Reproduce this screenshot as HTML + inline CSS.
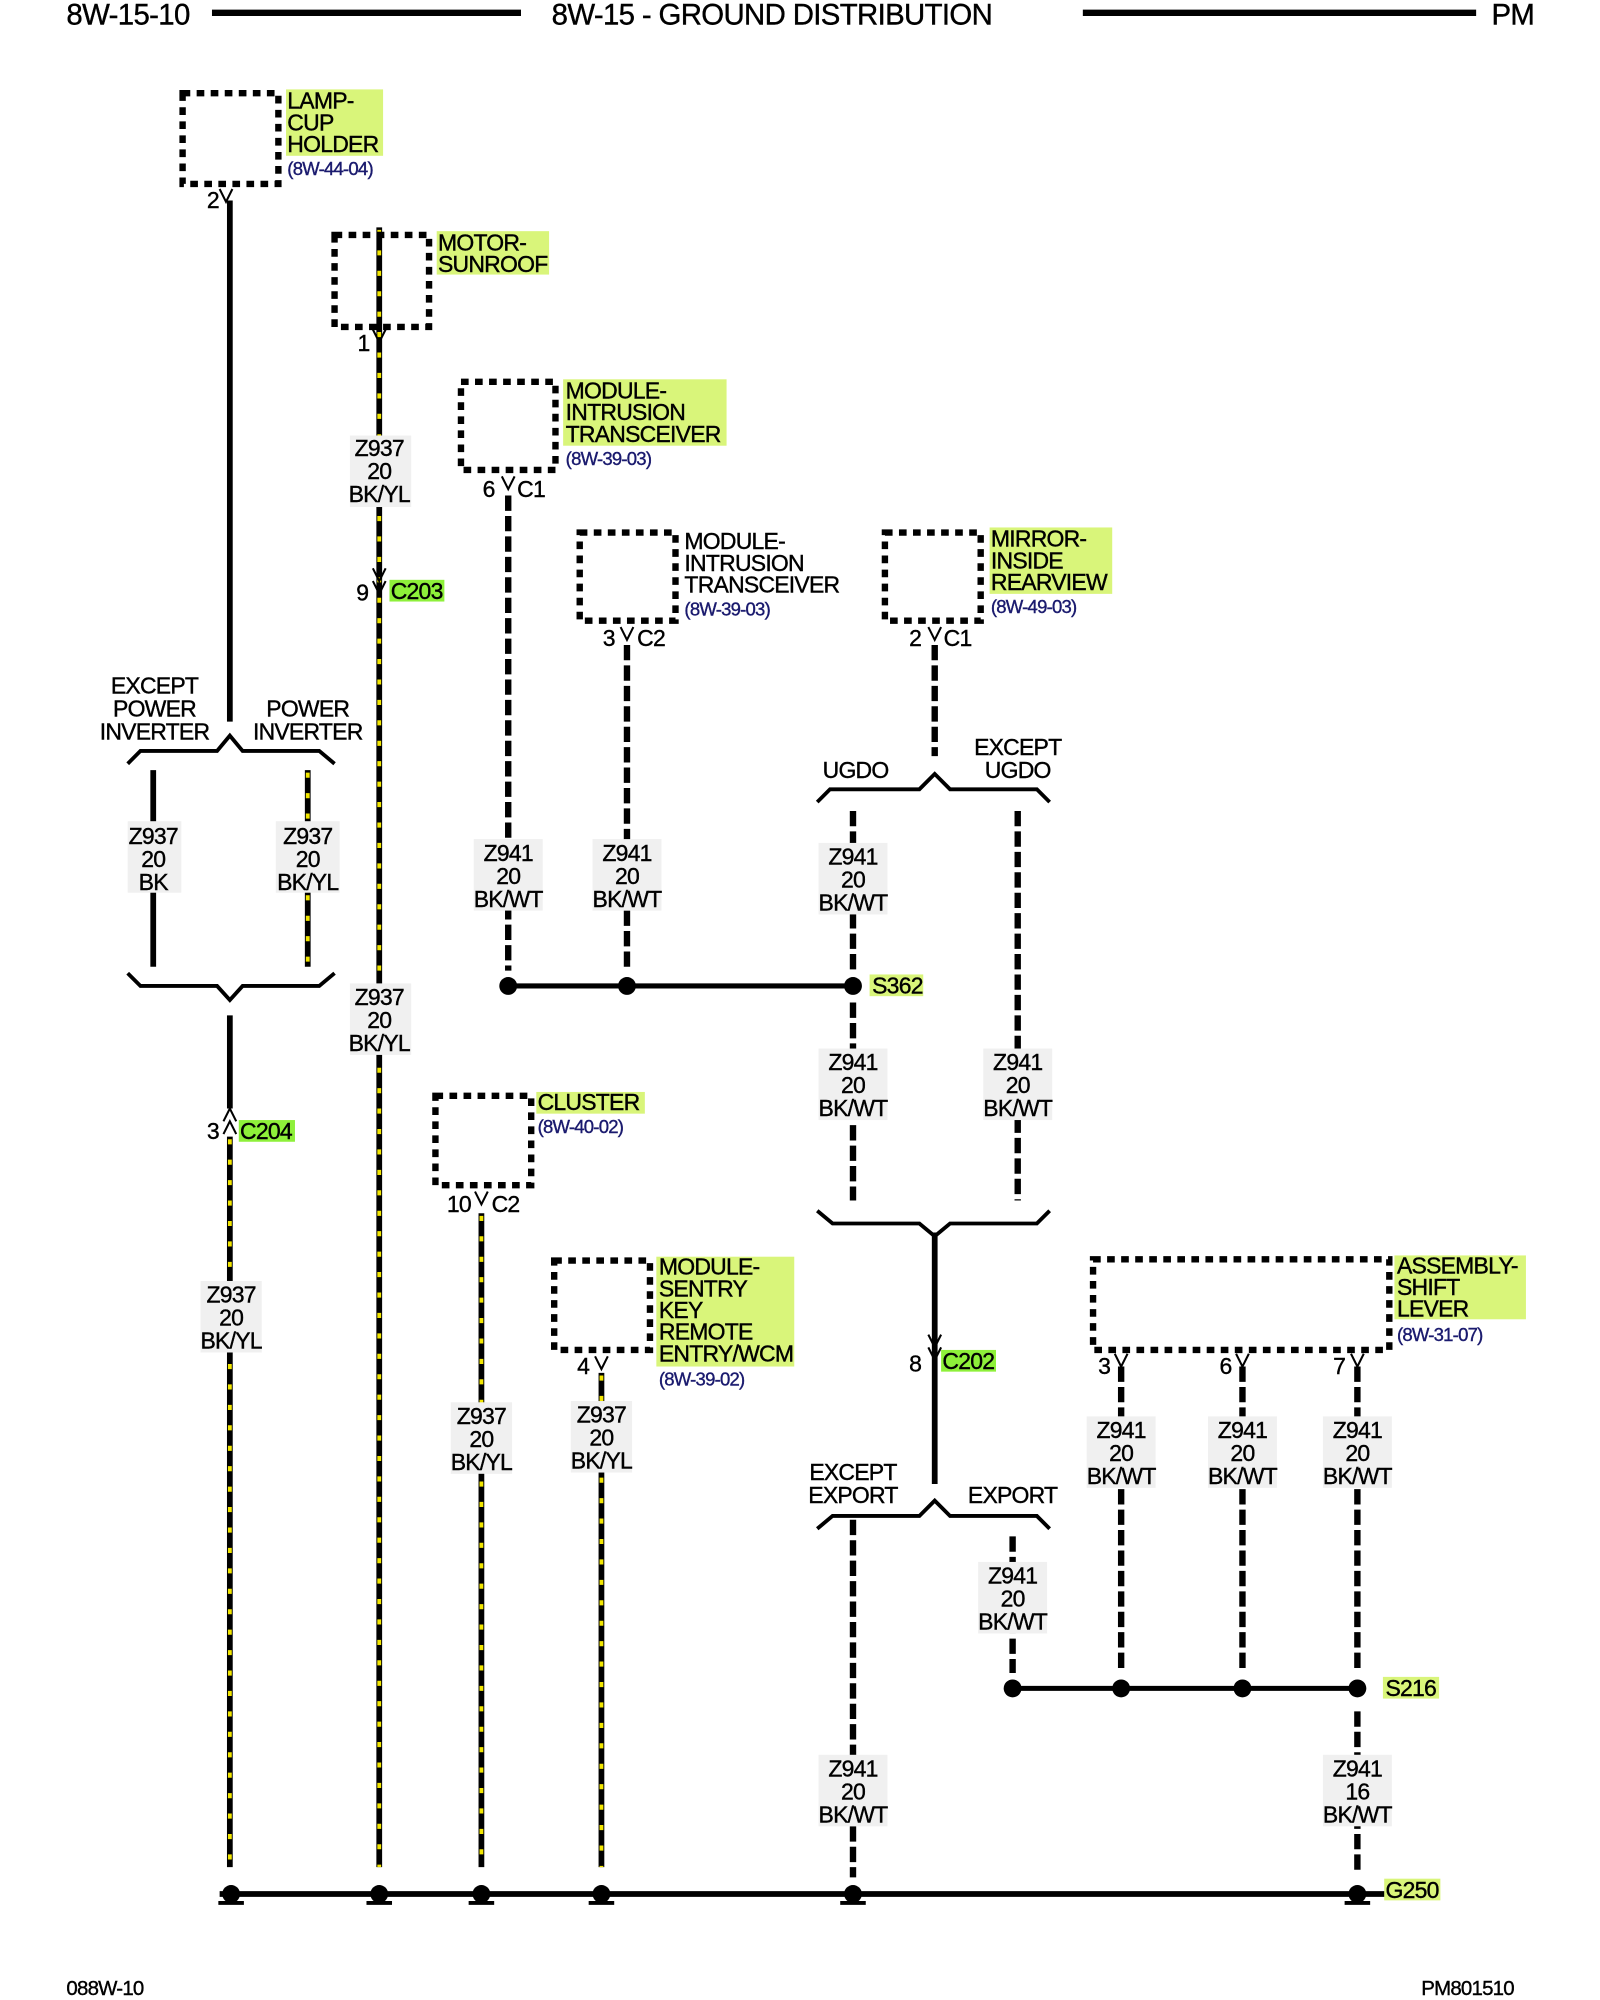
<!DOCTYPE html>
<html><head><meta charset="utf-8"><style>
html,body{margin:0;padding:0;background:#fff;}
svg{display:block;}
text{font-family:"Liberation Sans",Arial,sans-serif;font-size:18px;fill:#000;letter-spacing:-0.6px;stroke:#000;stroke-width:0.3px;}
.h{font-size:23px;letter-spacing:-0.5px;}
.r{font-size:14.5px;fill:#1a1a6e;stroke:#1a1a6e;}
.m{text-anchor:middle;}
.y{stroke:#000;stroke-width:4.5;fill:none;}
.yd{stroke:#f2e600;stroke-width:3;stroke-dasharray:4 12;fill:none;}
.s{stroke:#000;stroke-width:4.5;fill:none;}
.d{stroke:#000;stroke-width:5;stroke-dasharray:12 4;fill:none;}
.br{stroke:#000;stroke-width:3;fill:none;}
.hl{fill:#d9f57a;}
.g{fill:#8ef03a;}
.lb{fill:#f0f0f0;}
</style></head><body>
<svg width="1600" height="2000" viewBox="0 0 1253 1566" preserveAspectRatio="none" xmlns="http://www.w3.org/2000/svg">
<!-- header -->
<text class="h" x="52" y="19">8W-15-10</text>
<line x1="166" y1="10" x2="408" y2="10" stroke="#000" stroke-width="5"/>
<text class="h" x="432" y="19">8W-15 - GROUND DISTRIBUTION</text>
<line x1="848" y1="10" x2="1156" y2="10" stroke="#000" stroke-width="5"/>
<text class="h" x="1168" y="19">PM</text>
<text x="52" y="1562" style="font-size:16px">088W-10</text>
<text x="1113" y="1562" style="font-size:16px">PM801510</text>

<!-- wires -->
<line class="s" x1="180" y1="157" x2="180" y2="565"/>
<line class="y" x1="297" y1="178" x2="297" y2="1462"/><line class="yd" x1="297" y1="180" x2="297" y2="1462"/>
<line class="d" x1="398" y1="388" x2="398" y2="760"/>
<line class="d" x1="491" y1="505" x2="491" y2="760"/>
<line class="d" x1="732" y1="505" x2="732" y2="592"/>
<line class="d" x1="668" y1="635" x2="668" y2="760"/>
<line class="d" x1="797" y1="635" x2="797" y2="940"/>
<line class="d" x1="668" y1="785" x2="668" y2="940"/>
<line class="s" x1="732" y1="965" x2="732" y2="1162"/>
<line class="d" x1="668" y1="1190" x2="668" y2="1470"/>
<line class="d" x1="793" y1="1203" x2="793" y2="1310"/>
<line class="d" x1="878" y1="1070" x2="878" y2="1310"/>
<line class="d" x1="973" y1="1070" x2="973" y2="1310"/>
<line class="d" x1="1063" y1="1070" x2="1063" y2="1310"/>
<line class="d" x1="1063" y1="1340" x2="1063" y2="1465"/>
<line class="s" x1="120" y1="603" x2="120" y2="757"/>
<line class="y" x1="241" y1="603" x2="241" y2="757"/><line class="yd" x1="241" y1="605" x2="241" y2="757"/>
<line class="s" x1="180" y1="795" x2="180" y2="868"/>
<line class="y" x1="180" y1="890" x2="180" y2="1462"/><line class="yd" x1="180" y1="892" x2="180" y2="1462"/>
<line class="y" x1="377" y1="950" x2="377" y2="1462"/><line class="yd" x1="377" y1="952" x2="377" y2="1462"/>
<line class="y" x1="471" y1="1075" x2="471" y2="1462"/><line class="yd" x1="471" y1="1077" x2="471" y2="1462"/>

<!-- brackets -->
<polyline class="br" points="100,598 110,588 170,588 180,576 190,588 250,588 262,598"/>
<polyline class="br" points="100,762 110,772 170,772 180,783 190,772 250,772 262,762"/>
<polyline class="br" points="640,628 650,618 720,618 732,606 744,618 812,618 822,628"/>
<polyline class="br" points="640,948 652,958 720,958 732,968 744,958 812,958 822,948"/>
<polyline class="br" points="640,1197 652,1187 720,1187 732,1175 744,1187 812,1187 822,1197"/>

<!-- splices -->
<line x1="398" y1="772" x2="668" y2="772" stroke="#000" stroke-width="4"/>
<circle cx="398" cy="772" r="7"/><circle cx="491" cy="772" r="7"/><circle cx="668" cy="772" r="7"/>
<rect class="hl" x="681" y="763" width="42" height="17"/><text x="683" y="778">S362</text>
<line x1="793" y1="1322" x2="1063" y2="1322" stroke="#000" stroke-width="4"/>
<circle cx="793" cy="1322" r="7"/><circle cx="878" cy="1322" r="7"/><circle cx="973" cy="1322" r="7"/><circle cx="1063" cy="1322" r="7"/>
<rect class="hl" x="1083" y="1313" width="44" height="17"/><text x="1085" y="1328">S216</text>

<!-- ground bar -->
<line x1="172" y1="1483" x2="1100" y2="1483" stroke="#000" stroke-width="4.5"/>
<g>
<circle cx="181" cy="1483" r="7"/><line x1="171" y1="1490" x2="191" y2="1490" stroke="#000" stroke-width="3"/>
<circle cx="297" cy="1483" r="7"/><line x1="287" y1="1490" x2="307" y2="1490" stroke="#000" stroke-width="3"/>
<circle cx="377" cy="1483" r="7"/><line x1="367" y1="1490" x2="387" y2="1490" stroke="#000" stroke-width="3"/>
<circle cx="471" cy="1483" r="7"/><line x1="461" y1="1490" x2="481" y2="1490" stroke="#000" stroke-width="3"/>
<circle cx="668" cy="1483" r="7"/><line x1="658" y1="1490" x2="678" y2="1490" stroke="#000" stroke-width="3"/>
<circle cx="1063" cy="1483" r="7"/><line x1="1053" y1="1490" x2="1073" y2="1490" stroke="#000" stroke-width="3"/>
</g>
<rect class="hl" x="1084" y="1471" width="44" height="17"/><text x="1085" y="1486">G250</text>

<!-- boxes -->
<g fill="none" stroke="#000" stroke-width="5" stroke-dasharray="6 5">
<rect x="143" y="73" width="75" height="71"/>
<rect x="262" y="184" width="74" height="72"/>
<rect x="361" y="299" width="74" height="69"/>
<rect x="454" y="417" width="75" height="69"/>
<rect x="693" y="417" width="75" height="69"/>
<rect x="341" y="858" width="75" height="70"/>
<rect x="434" y="987" width="75" height="70"/>
<rect x="856" y="986" width="232" height="71"/>
</g>

<!-- component labels -->
<rect class="hl" x="224" y="70" width="76" height="52"/>
<text x="225" y="85">LAMP-</text><text x="225" y="102">CUP</text><text x="225" y="119">HOLDER</text>
<text class="r" x="225" y="137">(8W-44-04)</text>

<rect class="hl" x="342" y="181" width="88" height="34"/>
<text x="343" y="196">MOTOR-</text><text x="343" y="213">SUNROOF</text>

<rect class="hl" x="441" y="297" width="128" height="52"/>
<text x="443" y="312">MODULE-</text><text x="443" y="329">INTRUSION</text><text x="443" y="346">TRANSCEIVER</text>
<text class="r" x="443" y="364">(8W-39-03)</text>

<text x="536" y="430">MODULE-</text><text x="536" y="447">INTRUSION</text><text x="536" y="464">TRANSCEIVER</text>
<text class="r" x="536" y="482">(8W-39-03)</text>

<rect class="hl" x="775" y="413" width="96" height="52"/>
<text x="776" y="428">MIRROR-</text><text x="776" y="445">INSIDE</text><text x="776" y="462">REARVIEW</text>
<text class="r" x="776" y="480">(8W-49-03)</text>

<rect class="hl" x="420" y="855" width="85" height="17"/>
<text x="421" y="869">CLUSTER</text>
<text class="r" x="421" y="887">(8W-40-02)</text>

<rect class="hl" x="514" y="984" width="108" height="86"/>
<text x="516" y="998">MODULE-</text><text x="516" y="1015">SENTRY</text><text x="516" y="1032">KEY</text><text x="516" y="1049">REMOTE</text><text x="516" y="1066">ENTRY/WCM</text>
<text class="r" x="516" y="1085">(8W-39-02)</text>

<rect class="hl" x="1092" y="983" width="103" height="50"/>
<text x="1094" y="997">ASSEMBLY-</text><text x="1094" y="1014">SHIFT</text><text x="1094" y="1031">LEVER</text>
<text class="r" x="1094" y="1050">(8W-31-07)</text>

<!-- condition labels -->
<text class="m" x="121" y="543">EXCEPT</text><text class="m" x="121" y="561">POWER</text><text class="m" x="121" y="579">INVERTER</text>
<text class="m" x="241" y="561">POWER</text><text class="m" x="241" y="579">INVERTER</text>
<text class="m" x="670" y="609">UGDO</text>
<text class="m" x="797" y="591">EXCEPT</text><text class="m" x="797" y="609">UGDO</text>
<text class="m" x="668" y="1159">EXCEPT</text><text class="m" x="668" y="1177">EXPORT</text>
<text class="m" x="793" y="1177">EXPORT</text>

<!-- connector pins -->
<g fill="none" stroke="#000" stroke-width="1.6">
<polyline points="172,148 177,158 182,148"/>
<polyline points="292,258 297,268 302,258"/>
<polyline points="393,373 398,383 403,373"/>
<polyline points="486,491 491,501 496,491"/>
<polyline points="727,491 732,501 737,491"/>
<polyline points="292,445 297,455 302,445"/><polyline points="292,455 297,465 302,455"/>
<polyline points="175,878 180,868 185,878"/><polyline points="175,888 180,878 185,888"/>
<polyline points="372,933 377,943 382,933"/>
<polyline points="466,1062 471,1072 476,1062"/>
<polyline points="727,1045 732,1055 737,1045"/><polyline points="727,1055 732,1065 737,1055"/>
<polyline points="873,1060 878,1070 883,1060"/>
<polyline points="968,1060 973,1070 978,1060"/>
<polyline points="1058,1060 1063,1070 1068,1060"/>
</g>
<text x="162" y="163">2</text>
<text x="280" y="275">1</text>
<text x="378" y="389">6</text><text x="405" y="389">C1</text>
<text x="472" y="506">3</text><text x="499" y="506">C2</text>
<text x="712" y="506">2</text><text x="739" y="506">C1</text>
<text x="279" y="470">9</text><rect class="g" x="305" y="454" width="43" height="17"/><text x="306" y="469">C203</text>
<text x="162" y="892">3</text><rect class="g" x="187" y="877" width="44" height="17"/><text x="188" y="892">C204</text>
<text x="350" y="949">10</text><text x="385" y="949">C2</text>
<text x="452" y="1076">4</text>
<text x="712" y="1074">8</text><rect class="g" x="737" y="1057" width="43" height="17"/><text x="738" y="1072">C202</text>
<text x="860" y="1076">3</text><text x="955" y="1076">6</text><text x="1044" y="1076">7</text>

<!-- wire labels -->
<g>
<rect class="lb" x="274" y="341" width="48" height="56"/><text class="m" x="297" y="357">Z937</text><text class="m" x="297" y="375">20</text><text class="m" x="297" y="393">BK/YL</text>
<rect class="lb" x="274" y="770" width="48" height="56"/><text class="m" x="297" y="787">Z937</text><text class="m" x="297" y="805">20</text><text class="m" x="297" y="823">BK/YL</text>
<rect class="lb" x="100" y="643" width="42" height="56"/><text class="m" x="120" y="661">Z937</text><text class="m" x="120" y="679">20</text><text class="m" x="120" y="697">BK</text>
<rect class="lb" x="216" y="643" width="50" height="56"/><text class="m" x="241" y="661">Z937</text><text class="m" x="241" y="679">20</text><text class="m" x="241" y="697">BK/YL</text>
<rect class="lb" x="157" y="1003" width="48" height="56"/><text class="m" x="181" y="1020">Z937</text><text class="m" x="181" y="1038">20</text><text class="m" x="181" y="1056">BK/YL</text>
<rect class="lb" x="353" y="1098" width="48" height="56"/><text class="m" x="377" y="1115">Z937</text><text class="m" x="377" y="1133">20</text><text class="m" x="377" y="1151">BK/YL</text>
<rect class="lb" x="447" y="1097" width="48" height="56"/><text class="m" x="471" y="1114">Z937</text><text class="m" x="471" y="1132">20</text><text class="m" x="471" y="1150">BK/YL</text>
<rect class="lb" x="371" y="657" width="54" height="56"/><text class="m" x="398" y="674">Z941</text><text class="m" x="398" y="692">20</text><text class="m" x="398" y="710">BK/WT</text>
<rect class="lb" x="464" y="657" width="54" height="56"/><text class="m" x="491" y="674">Z941</text><text class="m" x="491" y="692">20</text><text class="m" x="491" y="710">BK/WT</text>
<rect class="lb" x="641" y="660" width="54" height="56"/><text class="m" x="668" y="677">Z941</text><text class="m" x="668" y="695">20</text><text class="m" x="668" y="713">BK/WT</text>
<rect class="lb" x="641" y="821" width="54" height="56"/><text class="m" x="668" y="838">Z941</text><text class="m" x="668" y="856">20</text><text class="m" x="668" y="874">BK/WT</text>
<rect class="lb" x="770" y="821" width="54" height="56"/><text class="m" x="797" y="838">Z941</text><text class="m" x="797" y="856">20</text><text class="m" x="797" y="874">BK/WT</text>
<rect class="lb" x="766" y="1223" width="54" height="56"/><text class="m" x="793" y="1240">Z941</text><text class="m" x="793" y="1258">20</text><text class="m" x="793" y="1276">BK/WT</text>
<rect class="lb" x="851" y="1109" width="54" height="56"/><text class="m" x="878" y="1126">Z941</text><text class="m" x="878" y="1144">20</text><text class="m" x="878" y="1162">BK/WT</text>
<rect class="lb" x="946" y="1109" width="54" height="56"/><text class="m" x="973" y="1126">Z941</text><text class="m" x="973" y="1144">20</text><text class="m" x="973" y="1162">BK/WT</text>
<rect class="lb" x="1036" y="1109" width="54" height="56"/><text class="m" x="1063" y="1126">Z941</text><text class="m" x="1063" y="1144">20</text><text class="m" x="1063" y="1162">BK/WT</text>
<rect class="lb" x="641" y="1374" width="54" height="56"/><text class="m" x="668" y="1391">Z941</text><text class="m" x="668" y="1409">20</text><text class="m" x="668" y="1427">BK/WT</text>
<rect class="lb" x="1036" y="1374" width="54" height="56"/><text class="m" x="1063" y="1391">Z941</text><text class="m" x="1063" y="1409">16</text><text class="m" x="1063" y="1427">BK/WT</text>
</g>
</svg>
</body></html>
